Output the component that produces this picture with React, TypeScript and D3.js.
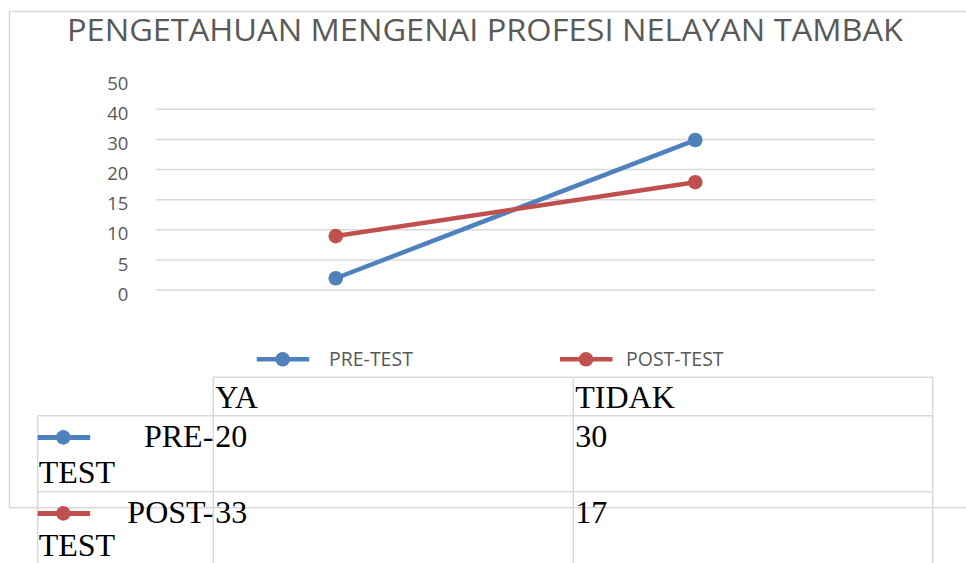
import React from "react";
import * as d3 from "d3";

// categories + series
const categories = ["YA", "TIDAK"];
const seriesNames = ["PRE-TEST", "POST-TEST"];
// positions on the (oddly labelled) value axis, in gridline steps, as drawn
const preTestPlot = [0.39, 4.98];
const postTestPlot = [1.79, 3.58];
// values shown in the data table under the chart
const preTestTable = [20, 30];
const postTestTable = [33, 17];
const yTickLabels = ["0", "5", "10", "15", "20", "30", "40", "50"];

const title = "PENGETAHUAN MENGENAI PROFESI NELAYAN TAMBAK";
const colors = ["#4F81BD", "#C0504D"];
const grey = "#595959";
const gridColor = "#d9d9d9";
const font = "'Open Sans', 'Noto Sans', sans-serif";
const serif = "'Liberation Serif', 'Times New Roman', serif";

export default function App() {
  const width = 966;
  const height = 563;
  const plotLeft = 156, plotRight = 875, plotTop = 79.2, plotBottom = 290;

  const xScale = d3.scaleBand().domain(categories).range([plotLeft, plotRight]);
  const yScale = d3.scaleLinear().domain([0, yTickLabels.length - 1]).range([plotBottom, plotTop]);
  const cx = (c) => xScale(c) + xScale.bandwidth() / 2;

  const line = d3.line().x((d) => cx(d.c)).y((d) => yScale(d.v));
  const series = [preTestPlot, postTestPlot].map((vals) =>
    vals.map((v, i) => ({ c: categories[i], v }))
  );

  // table layout
  const colX = [37.7, 213.3, 573.3, 932.7];
  const rowY = [377.3, 415.7, 491.7, 600];
  const tableVals = [preTestTable, postTestTable];

  return (
    <svg width={width} height={height} style={{ position: "absolute", left: 0, top: 0 }}>
      <rect x={0} y={0} width={width} height={height} fill="#fff" />
      {/* chart frame */}
      <path d={`M${width + 2},11.5 H9.5 V507.7 H${width + 2}`} fill="none" stroke={gridColor} strokeWidth={1.5} />

      <text x={(66.7 + 903.3) / 2} y={40.7} textAnchor="middle" fontFamily={font} fontSize={31}
        fill={grey} textLength={836} lengthAdjust="spacingAndGlyphs">{title}</text>

      {/* gridlines (top one not drawn) */}
      {yTickLabels.slice(0, -1).map((t, i) => (
        <line key={t} x1={plotLeft} x2={plotRight} y1={yScale(i)} y2={yScale(i)} stroke={gridColor} strokeWidth={1.5} />
      ))}
      {yTickLabels.map((t, i) => (
        <text key={"l" + t} x={128.3} y={yScale(i) + 10.7} textAnchor="end" fontFamily={font} fontSize={18.5} fill={grey}>{t}</text>
      ))}

      {series.map((s, k) => (
        <g key={seriesNames[k]}>
          <path d={line(s)} fill="none" stroke={colors[k]} strokeWidth={4.5} />
          {s.map((d) => (
            <circle key={d.c} cx={cx(d.c)} cy={yScale(d.v)} r={7.3} fill={colors[k]} />
          ))}
        </g>
      ))}

      {/* legend */}
      {seriesNames.map((n, k) => {
        const x0 = [256.7, 560][k];
        const tx = [329, 626][k];
        return (
          <g key={"lg" + n}>
            <line x1={x0} x2={x0 + 52.5} y1={359.3} y2={359.3} stroke={colors[k]} strokeWidth={4.5} />
            <circle cx={x0 + 26} cy={359.3} r={7.3} fill={colors[k]} />
            <text x={tx} y={365.5} fontFamily={font} fontSize={19.5} fill={grey}>{n}</text>
          </g>
        );
      })}

      {/* data table */}
      <g stroke={gridColor} strokeWidth={1.5} fill="none">
        <line x1={colX[1]} x2={colX[3]} y1={rowY[0]} y2={rowY[0]} />
        <line x1={colX[0]} x2={colX[3]} y1={rowY[1]} y2={rowY[1]} />
        <line x1={colX[0]} x2={colX[3]} y1={rowY[2]} y2={rowY[2]} />
        <line x1={colX[0]} x2={colX[0]} y1={rowY[1]} y2={rowY[3]} />
        <line x1={colX[1]} x2={colX[1]} y1={rowY[0]} y2={rowY[3]} />
        <line x1={colX[2]} x2={colX[2]} y1={rowY[0]} y2={rowY[3]} />
        <line x1={colX[3]} x2={colX[3]} y1={rowY[0]} y2={rowY[3]} />
      </g>
      {categories.map((c, i) => (
        <text key={"h" + c} x={colX[i + 1] + 2} y={408.3} fontFamily={serif} fontSize={32} fill="#000">{c}</text>
      ))}
      {seriesNames.map((n, k) => {
        const base = [446.7, 522.7][k];
        const secondY = [483.3, 556][k];
        const [first, second] = n.split("-");
        return (
          <g key={"row" + n}>
            <line x1={colX[0]} x2={colX[0] + 52.5} y1={base - 9.3} y2={base - 9.3} stroke={colors[k]} strokeWidth={5} />
            <circle cx={colX[0] + 25.6} cy={base - 9.3} r={7.3} fill={colors[k]} />
            <text x={colX[1]} y={base} textAnchor="end" fontFamily={serif} fontSize={32} fill="#000">{first + "-"}</text>
            <text x={colX[0] + 1} y={secondY} fontFamily={serif} fontSize={32} fill="#000">{second}</text>
            {tableVals[k].map((v, i) => (
              <text key={categories[i]} x={colX[i + 1] + 2} y={base} fontFamily={serif} fontSize={32} fill="#000">{v}</text>
            ))}
          </g>
        );
      })}
    </svg>
  );
}
